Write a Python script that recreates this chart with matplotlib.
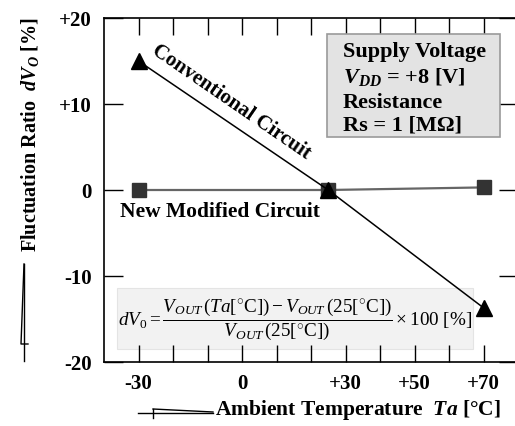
import matplotlib
matplotlib.use("Agg")
import matplotlib.pyplot as plt
from matplotlib.lines import Line2D
from matplotlib.patches import Rectangle

# data
temps = [-30, 25, 70]
conventional = [15.0, 0.0, -13.7]
modified = [0.0, 0.0, 0.3]

x_ticks = [-30, -20, -10, 0, 10, 20, 30, 40, 50, 60, 70]
x_tick_labels = ["-30", "", "", "0", "", "", "+30", "", "+50", "", "+70"]
y_ticks = [20, 10, 0, -10, -20]
y_tick_labels = ["+20", "+10", "0", "-10", "-20"]

plt.rcParams['font.family'] = ['Liberation Serif', 'DejaVu Sans']
plt.rcParams['mathtext.fontset'] = 'custom'
plt.rcParams['mathtext.rm'] = 'Liberation Serif'
plt.rcParams['mathtext.it'] = 'Liberation Serif:italic'
plt.rcParams['mathtext.bf'] = 'Liberation Serif:bold'
plt.rcParams['mathtext.bfit'] = 'Liberation Serif:italic:bold'

W, H = 515, 427
fig = plt.figure(figsize=(W / 100, H / 100), dpi=100)

def px(x, y):
    """pixel position (from top-left) -> figure fraction"""
    return x / W, 1 - y / H

ax_l, ax_r, ax_t, ax_b = 104, 518, 19, 363
ax = fig.add_axes([ax_l / W, 1 - ax_b / H, (ax_r - ax_l) / W, (ax_b - ax_t) / H])

ax.plot(temps, modified, color='#666666', lw=1.6, marker='s', ms=10.5,
        mfc='#333333', mec='#333333', zorder=3)
ax.plot(temps, conventional, color='black', lw=1.1, marker='^', ms=11,
        mfc='black', mec='black', zorder=4)

ax.set_xlim(-40, 80)
ax.set_ylim(-20, 20)
ax.set_xticks(x_ticks)
ax.set_xticklabels(x_tick_labels)
ax.set_yticks(y_ticks)
ax.set_yticklabels(y_tick_labels)
ax.tick_params(axis='x', direction='in', length=12, width=1, top=True, pad=8,
               labelsize=15)
ax.tick_params(axis='y', direction='in', length=14, width=1, right=True, pad=9,
               labelsize=15)
for lab in ax.get_xticklabels() + ax.get_yticklabels():
    lab.set_fontweight('bold')
for sp in ax.spines.values():
    sp.set_linewidth(1.2)

# curve labels
ax.text(-3.0, 10.3, "Conventional Circuit", rotation=-34.5, rotation_mode='anchor',
        ha='center', va='center', fontsize=15, fontweight='bold')
ax.text(-35.5, -2.5, "New Modified Circuit", ha='left', va='center',
        fontsize=15.5, fontweight='bold')

# condition box
ax.add_patch(Rectangle((0.539, 0.654), 0.418, 0.299, transform=ax.transAxes,
                       facecolor='#e3e3e3', edgecolor='#9a9a9a', lw=1.2, zorder=2))
box_lines = ["Supply Voltage", r"$\mathbfit{V}_{\mathbfit{DD}}$ = +8 [V]",
             "Resistance", "Rs = 1 [M\u03a9]"]
for txt, yy in zip(box_lines, [0.904, 0.83, 0.756, 0.69]):
    ax.text(0.577, yy, txt, transform=ax.transAxes, ha='left', va='center',
            fontsize=16, fontweight='bold', zorder=5)

# formula box
ax.add_patch(Rectangle((0.031, 0.038), 0.86, 0.178, transform=ax.transAxes,
                       facecolor='#f2f2f2', edgecolor='#e4e4e4', lw=0.8, zorder=1))
formula = (r"$dV_{0}=\dfrac{V_{OUT}\,(Ta[^{\circ}\mathrm{C}])-V_{OUT}\,(25[^{\circ}\mathrm{C}])}"
           r"{V_{OUT}\,(25[^{\circ}\mathrm{C}])}\times 100\,\,[\%]$")
ax.text(0.461, 0.125, formula, transform=ax.transAxes, ha='center', va='center',
        fontsize=13.8, zorder=5)

# axis titles
fig.text(*px(215, 410), r"Ambient Temperature  $\mathbfit{Ta}$ [°C]", ha='left',
         va='center', fontsize=15.5, fontweight='bold')
fig.text(*px(30, 134), r"Fluctuation Ratio  $\mathbfit{dV}_{\mathbfit{O}}$ [%]",
         rotation=90, ha='center', va='center', fontsize=14.5, fontweight='bold')

# small arrow-like marks next to the axis titles
def fig_line(xs, ys, lw=1.0):
    pts = [px(x, y) for x, y in zip(xs, ys)]
    fig.add_artist(Line2D([p[0] for p in pts], [p[1] for p in pts],
                          color='black', lw=lw, transform=fig.transFigure))

fig_line([138, 213], [414, 414])
fig_line([153, 153], [410, 419])
fig_line([153, 213], [410, 413])
fig_line([24, 24], [265, 362])
fig_line([24, 21, 21, 28], [265, 345, 345, 345])

fig.savefig("out.png", dpi=100)
